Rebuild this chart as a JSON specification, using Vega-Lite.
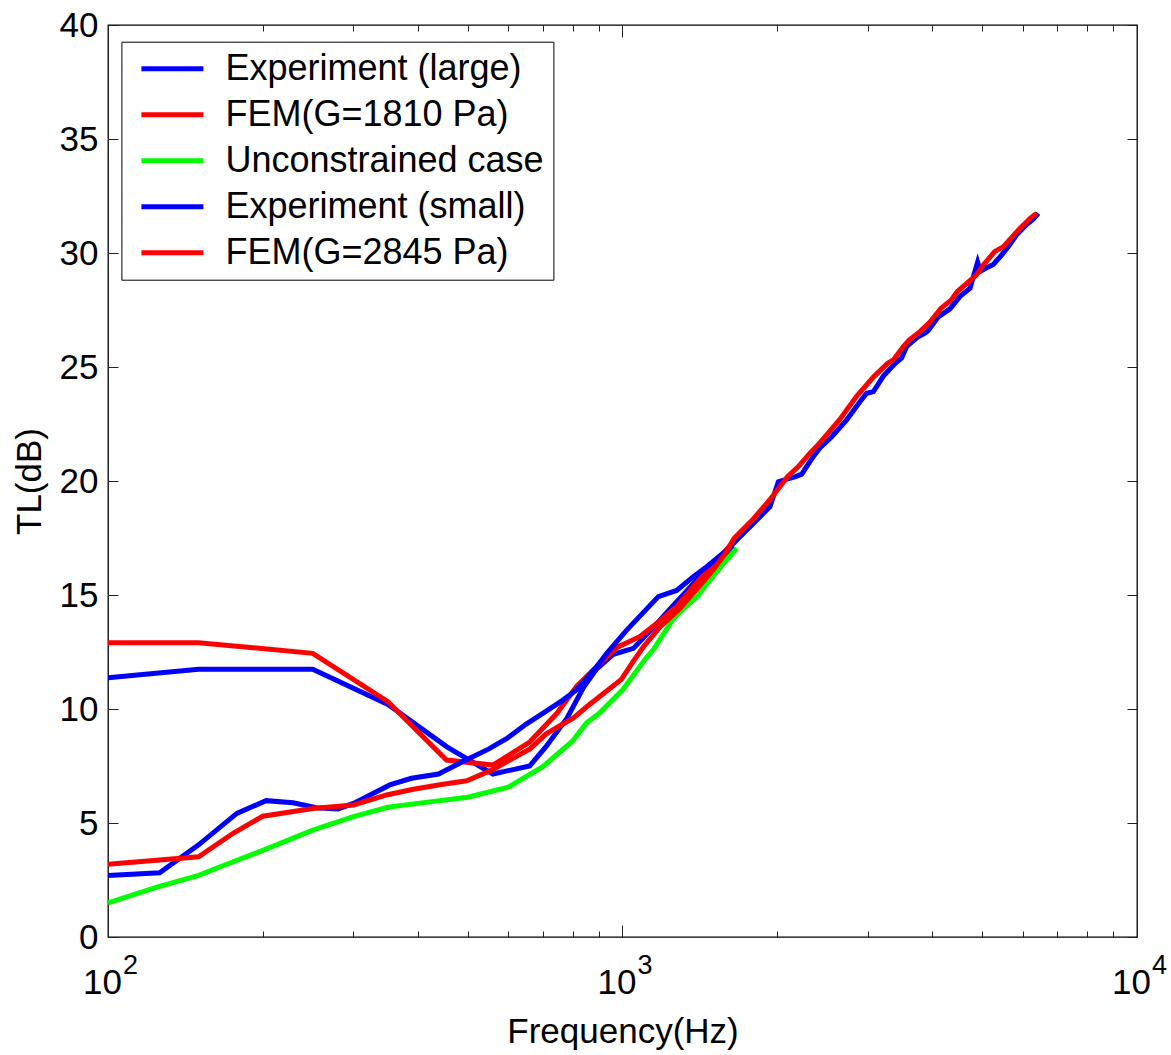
{
  "$schema": "https://vega.github.io/schema/vega-lite/v6.json",
  "width": 1029,
  "height": 912,
  "autosize": {"type": "none"},
  "padding": {"left": 108, "top": 25, "right": 34, "bottom": 118},
  "background": "white",
  "datasets": {
    "tl": [
      {"s": "Experiment (large)", "f": 100, "tl": 11.37},
      {"s": "Experiment (large)", "f": 150, "tl": 11.74},
      {"s": "Experiment (large)", "f": 250, "tl": 11.74},
      {"s": "Experiment (large)", "f": 350, "tl": 10.2},
      {"s": "Experiment (large)", "f": 455, "tl": 8.35},
      {"s": "Experiment (large)", "f": 500, "tl": 7.8},
      {"s": "Experiment (large)", "f": 560, "tl": 7.15},
      {"s": "Experiment (large)", "f": 660, "tl": 7.5},
      {"s": "Experiment (large)", "f": 710, "tl": 8.35},
      {"s": "Experiment (large)", "f": 780, "tl": 9.6},
      {"s": "Experiment (large)", "f": 840, "tl": 10.95},
      {"s": "Experiment (large)", "f": 890, "tl": 11.75},
      {"s": "Experiment (large)", "f": 960, "tl": 12.4},
      {"s": "Experiment (large)", "f": 1050, "tl": 12.66},
      {"s": "Experiment (large)", "f": 1150, "tl": 13.6},
      {"s": "Experiment (large)", "f": 1250, "tl": 14.5},
      {"s": "Experiment (large)", "f": 1400, "tl": 15.7},
      {"s": "Experiment (large)", "f": 1550, "tl": 16.6},
      {"s": "Experiment (large)", "f": 1650, "tl": 17.1},

      {"s": "FEM(G=1810 Pa)", "f": 100, "tl": 12.91},
      {"s": "FEM(G=1810 Pa)", "f": 150, "tl": 12.91},
      {"s": "FEM(G=1810 Pa)", "f": 250, "tl": 12.44},
      {"s": "FEM(G=1810 Pa)", "f": 350, "tl": 10.32},
      {"s": "FEM(G=1810 Pa)", "f": 455, "tl": 7.76},
      {"s": "FEM(G=1810 Pa)", "f": 560, "tl": 7.54},
      {"s": "FEM(G=1810 Pa)", "f": 660, "tl": 8.55},
      {"s": "FEM(G=1810 Pa)", "f": 745, "tl": 9.8},
      {"s": "FEM(G=1810 Pa)", "f": 815, "tl": 11.0},
      {"s": "FEM(G=1810 Pa)", "f": 890, "tl": 11.85},
      {"s": "FEM(G=1810 Pa)", "f": 975, "tl": 12.7},
      {"s": "FEM(G=1810 Pa)", "f": 1080, "tl": 13.17},
      {"s": "FEM(G=1810 Pa)", "f": 1180, "tl": 13.85},
      {"s": "FEM(G=1810 Pa)", "f": 1275, "tl": 14.5},
      {"s": "FEM(G=1810 Pa)", "f": 1400, "tl": 15.6},
      {"s": "FEM(G=1810 Pa)", "f": 1500, "tl": 16.3},
      {"s": "FEM(G=1810 Pa)", "f": 1650, "tl": 17.4},

      {"s": "Unconstrained case", "f": 100, "tl": 1.5},
      {"s": "Unconstrained case", "f": 125, "tl": 2.2},
      {"s": "Unconstrained case", "f": 150, "tl": 2.7},
      {"s": "Unconstrained case", "f": 175, "tl": 3.3},
      {"s": "Unconstrained case", "f": 200, "tl": 3.8},
      {"s": "Unconstrained case", "f": 250, "tl": 4.69},
      {"s": "Unconstrained case", "f": 300, "tl": 5.28},
      {"s": "Unconstrained case", "f": 350, "tl": 5.69},
      {"s": "Unconstrained case", "f": 400, "tl": 5.86},
      {"s": "Unconstrained case", "f": 500, "tl": 6.13},
      {"s": "Unconstrained case", "f": 600, "tl": 6.57},
      {"s": "Unconstrained case", "f": 700, "tl": 7.47},
      {"s": "Unconstrained case", "f": 800, "tl": 8.6},
      {"s": "Unconstrained case", "f": 850, "tl": 9.37},
      {"s": "Unconstrained case", "f": 900, "tl": 9.8},
      {"s": "Unconstrained case", "f": 1000, "tl": 10.83},
      {"s": "Unconstrained case", "f": 1100, "tl": 12.1},
      {"s": "Unconstrained case", "f": 1150, "tl": 12.63},
      {"s": "Unconstrained case", "f": 1250, "tl": 13.9},
      {"s": "Unconstrained case", "f": 1300, "tl": 14.3},
      {"s": "Unconstrained case", "f": 1400, "tl": 14.95},
      {"s": "Unconstrained case", "f": 1460, "tl": 15.5},
      {"s": "Unconstrained case", "f": 1560, "tl": 16.3},
      {"s": "Unconstrained case", "f": 1667, "tl": 17.05},

      {"s": "Experiment (small)", "f": 100, "tl": 2.7},
      {"s": "Experiment (small)", "f": 126, "tl": 2.82},
      {"s": "Experiment (small)", "f": 150, "tl": 4.04},
      {"s": "Experiment (small)", "f": 178, "tl": 5.42},
      {"s": "Experiment (small)", "f": 203, "tl": 5.98},
      {"s": "Experiment (small)", "f": 229, "tl": 5.89},
      {"s": "Experiment (small)", "f": 254, "tl": 5.67},
      {"s": "Experiment (small)", "f": 280, "tl": 5.62},
      {"s": "Experiment (small)", "f": 300, "tl": 5.86},
      {"s": "Experiment (small)", "f": 353, "tl": 6.67},
      {"s": "Experiment (small)", "f": 389, "tl": 6.96},
      {"s": "Experiment (small)", "f": 439, "tl": 7.15},
      {"s": "Experiment (small)", "f": 500, "tl": 7.8},
      {"s": "Experiment (small)", "f": 550, "tl": 8.25},
      {"s": "Experiment (small)", "f": 595, "tl": 8.7},
      {"s": "Experiment (small)", "f": 650, "tl": 9.34},
      {"s": "Experiment (small)", "f": 700, "tl": 9.81},
      {"s": "Experiment (small)", "f": 766, "tl": 10.39},
      {"s": "Experiment (small)", "f": 815, "tl": 10.85},
      {"s": "Experiment (small)", "f": 891, "tl": 11.86},
      {"s": "Experiment (small)", "f": 932, "tl": 12.44},
      {"s": "Experiment (small)", "f": 1019, "tl": 13.46},
      {"s": "Experiment (small)", "f": 1174, "tl": 14.93},
      {"s": "Experiment (small)", "f": 1274, "tl": 15.2},
      {"s": "Experiment (small)", "f": 1373, "tl": 15.8},
      {"s": "Experiment (small)", "f": 1458, "tl": 16.24},
      {"s": "Experiment (small)", "f": 1594, "tl": 16.97},
      {"s": "Experiment (small)", "f": 1692, "tl": 17.56},
      {"s": "Experiment (small)", "f": 1796, "tl": 18.14},
      {"s": "Experiment (small)", "f": 1935, "tl": 18.87},
      {"s": "Experiment (small)", "f": 2009, "tl": 19.97},
      {"s": "Experiment (small)", "f": 2170, "tl": 20.19},
      {"s": "Experiment (small)", "f": 2230, "tl": 20.3},
      {"s": "Experiment (small)", "f": 2348, "tl": 21.07},
      {"s": "Experiment (small)", "f": 2430, "tl": 21.5},
      {"s": "Experiment (small)", "f": 2551, "tl": 21.94},
      {"s": "Experiment (small)", "f": 2727, "tl": 22.68},
      {"s": "Experiment (small)", "f": 2894, "tl": 23.48},
      {"s": "Experiment (small)", "f": 2983, "tl": 23.85},
      {"s": "Experiment (small)", "f": 3074, "tl": 23.92},
      {"s": "Experiment (small)", "f": 3214, "tl": 24.6},
      {"s": "Experiment (small)", "f": 3386, "tl": 25.15},
      {"s": "Experiment (small)", "f": 3488, "tl": 25.4},
      {"s": "Experiment (small)", "f": 3566, "tl": 25.9},
      {"s": "Experiment (small)", "f": 3740, "tl": 26.3},
      {"s": "Experiment (small)", "f": 3871, "tl": 26.48},
      {"s": "Experiment (small)", "f": 3930, "tl": 26.6},
      {"s": "Experiment (small)", "f": 4109, "tl": 27.2},
      {"s": "Experiment (small)", "f": 4331, "tl": 27.55},
      {"s": "Experiment (small)", "f": 4529, "tl": 28.1},
      {"s": "Experiment (small)", "f": 4736, "tl": 28.45},
      {"s": "Experiment (small)", "f": 4900, "tl": 29.6},
      {"s": "Experiment (small)", "f": 4960, "tl": 29.2},
      {"s": "Experiment (small)", "f": 5100, "tl": 29.35},
      {"s": "Experiment (small)", "f": 5257, "tl": 29.5},
      {"s": "Experiment (small)", "f": 5450, "tl": 29.9},
      {"s": "Experiment (small)", "f": 5623, "tl": 30.28},
      {"s": "Experiment (small)", "f": 5835, "tl": 30.8},
      {"s": "Experiment (small)", "f": 6104, "tl": 31.25},
      {"s": "Experiment (small)", "f": 6300, "tl": 31.5},
      {"s": "Experiment (small)", "f": 6430, "tl": 31.74},

      {"s": "FEM(G=2845 Pa)", "f": 100, "tl": 3.19},
      {"s": "FEM(G=2845 Pa)", "f": 150, "tl": 3.52},
      {"s": "FEM(G=2845 Pa)", "f": 175, "tl": 4.55},
      {"s": "FEM(G=2845 Pa)", "f": 200, "tl": 5.3},
      {"s": "FEM(G=2845 Pa)", "f": 250, "tl": 5.64},
      {"s": "FEM(G=2845 Pa)", "f": 300, "tl": 5.79},
      {"s": "FEM(G=2845 Pa)", "f": 348, "tl": 6.23},
      {"s": "FEM(G=2845 Pa)", "f": 392, "tl": 6.48},
      {"s": "FEM(G=2845 Pa)", "f": 448, "tl": 6.7},
      {"s": "FEM(G=2845 Pa)", "f": 498, "tl": 6.85},
      {"s": "FEM(G=2845 Pa)", "f": 561, "tl": 7.35},
      {"s": "FEM(G=2845 Pa)", "f": 596, "tl": 7.69},
      {"s": "FEM(G=2845 Pa)", "f": 661, "tl": 8.25},
      {"s": "FEM(G=2845 Pa)", "f": 710, "tl": 8.9},
      {"s": "FEM(G=2845 Pa)", "f": 760, "tl": 9.3},
      {"s": "FEM(G=2845 Pa)", "f": 802, "tl": 9.6},
      {"s": "FEM(G=2845 Pa)", "f": 852, "tl": 10.1},
      {"s": "FEM(G=2845 Pa)", "f": 903, "tl": 10.55},
      {"s": "FEM(G=2845 Pa)", "f": 995, "tl": 11.3},
      {"s": "FEM(G=2845 Pa)", "f": 1050, "tl": 12.1},
      {"s": "FEM(G=2845 Pa)", "f": 1100, "tl": 12.75},
      {"s": "FEM(G=2845 Pa)", "f": 1183, "tl": 13.6},
      {"s": "FEM(G=2845 Pa)", "f": 1291, "tl": 14.4},
      {"s": "FEM(G=2845 Pa)", "f": 1400, "tl": 15.3},
      {"s": "FEM(G=2845 Pa)", "f": 1500, "tl": 16.1},
      {"s": "FEM(G=2845 Pa)", "f": 1585, "tl": 16.83},
      {"s": "FEM(G=2845 Pa)", "f": 1648, "tl": 17.49},
      {"s": "FEM(G=2845 Pa)", "f": 1800, "tl": 18.36},
      {"s": "FEM(G=2845 Pa)", "f": 1932, "tl": 19.17},
      {"s": "FEM(G=2845 Pa)", "f": 2093, "tl": 20.19},
      {"s": "FEM(G=2845 Pa)", "f": 2197, "tl": 20.63},
      {"s": "FEM(G=2845 Pa)", "f": 2312, "tl": 21.21},
      {"s": "FEM(G=2845 Pa)", "f": 2414, "tl": 21.65},
      {"s": "FEM(G=2845 Pa)", "f": 2640, "tl": 22.68},
      {"s": "FEM(G=2845 Pa)", "f": 2849, "tl": 23.7},
      {"s": "FEM(G=2845 Pa)", "f": 3080, "tl": 24.58},
      {"s": "FEM(G=2845 Pa)", "f": 3277, "tl": 25.16},
      {"s": "FEM(G=2845 Pa)", "f": 3360, "tl": 25.31},
      {"s": "FEM(G=2845 Pa)", "f": 3514, "tl": 25.89},
      {"s": "FEM(G=2845 Pa)", "f": 3607, "tl": 26.18},
      {"s": "FEM(G=2845 Pa)", "f": 3786, "tl": 26.55},
      {"s": "FEM(G=2845 Pa)", "f": 3967, "tl": 26.99},
      {"s": "FEM(G=2845 Pa)", "f": 4156, "tl": 27.57},
      {"s": "FEM(G=2845 Pa)", "f": 4355, "tl": 27.94},
      {"s": "FEM(G=2845 Pa)", "f": 4471, "tl": 28.3},
      {"s": "FEM(G=2845 Pa)", "f": 4876, "tl": 29.04},
      {"s": "FEM(G=2845 Pa)", "f": 5026, "tl": 29.47},
      {"s": "FEM(G=2845 Pa)", "f": 5288, "tl": 30.06},
      {"s": "FEM(G=2845 Pa)", "f": 5500, "tl": 30.28},
      {"s": "FEM(G=2845 Pa)", "f": 5920, "tl": 31.08},
      {"s": "FEM(G=2845 Pa)", "f": 6200, "tl": 31.52},
      {"s": "FEM(G=2845 Pa)", "f": 6385, "tl": 31.74}
    ]
  },
  "data": {"name": "tl"},
  "layer": [
    {
      "mark": {"type": "line", "strokeWidth": 5, "clip": true},
      "encoding": {
        "x": {
          "field": "f", "type": "quantitative",
          "scale": {"type": "log", "domain": [100, 10000], "nice": false},
          "axis": {
            "orient": "bottom", "values": [100, 1000, 10000],
            "labelExpr": "'10'", "labelFontSize": 35, "labelPadding": 40, "labelOffset": -6,
            "labelFlush": false, "labelOverlap": false,
            "tickSize": -12, "title": "Frequency(Hz)", "titleFontSize": 35, "titlePadding": 14
          }
        },
        "y": {
          "field": "tl", "type": "quantitative",
          "scale": {"domain": [0, 40], "nice": false, "zero": false},
          "axis": {
            "orient": "left", "values": [0, 5, 10, 15, 20, 25, 30, 35, 40],
            "labelFontSize": 35, "labelPadding": 20, "tickSize": -10,
            "title": "TL(dB)", "titleFontSize": 35, "titlePadding": 12
          }
        },
        "color": {
          "field": "s", "type": "nominal",
          "scale": {
            "domain": ["Experiment (large)", "FEM(G=1810 Pa)", "Unconstrained case", "Experiment (small)", "FEM(G=2845 Pa)"],
            "range": ["#0000ff", "#ff0000", "#00ff00", "#0000ff", "#ff0000"]
          },
          "legend": {
            "title": null, "orient": "none", "legendX": 13.4, "legendY": 16.7,
            "symbolType": "M-2,0H2", "symbolSize": 961, "symbolStrokeWidth": 5,
            "symbolOffset": 24, "labelOffset": 35, "labelFontSize": 36, "labelLimit": 0,
            "labelColor": "black", "labelBaseline": "middle",
            "padding": 9, "rowPadding": 10,
            "strokeColor": "black", "fillColor": "white"
          }
        }
      }
    },
    {
      "mark": {"type": "point", "opacity": 0},
      "encoding": {
        "x": {"field": "f", "type": "quantitative",
          "axis": {"orient": "top", "values": [100, 1000, 10000], "labels": false, "tickSize": -12, "title": null}},
        "y": {"field": "tl", "type": "quantitative",
          "axis": {"orient": "right", "values": [0, 5, 10, 15, 20, 25, 30, 35, 40], "labels": false, "tickSize": -10, "title": null}}
      }
    },
    {
      "mark": {"type": "point", "opacity": 0},
      "encoding": {
        "x": {"field": "f", "type": "quantitative",
          "axis": {"orient": "bottom", "values": [200, 300, 400, 500, 600, 700, 800, 900, 2000, 3000, 4000, 5000, 6000, 7000, 8000, 9000], "labels": false, "tickSize": -6, "title": null}},
        "y": {"field": "tl", "type": "quantitative", "axis": null}
      }
    },
    {
      "mark": {"type": "point", "opacity": 0},
      "encoding": {
        "x": {"field": "f", "type": "quantitative",
          "axis": {"orient": "top", "values": [200, 300, 400, 500, 600, 700, 800, 900, 2000, 3000, 4000, 5000, 6000, 7000, 8000, 9000], "labels": false, "tickSize": -6, "title": null}},
        "y": {"field": "tl", "type": "quantitative", "axis": null}
      }
    },
    {
      "mark": {"type": "point", "opacity": 0},
      "encoding": {
        "x": {"field": "f", "type": "quantitative",
          "axis": {"orient": "bottom", "values": [100, 1000, 10000], "ticks": false,
            "labelExpr": "datum.value == 100 ? '2' : datum.value == 1000 ? '3' : '4'",
            "labelFontSize": 27, "labelPadding": 15, "labelOffset": 22,
            "labelFlush": false, "labelOverlap": false, "title": null}},
        "y": {"field": "tl", "type": "quantitative", "axis": null}
      }
    }
  ],
  "resolve": {"axis": {"x": "independent", "y": "independent"}},
  "config": {
    "font": "Liberation Sans",
    "view": {"stroke": "black", "strokeWidth": 1.3},
    "axis": {
      "domain": false, "grid": false, "tickColor": "#222", "tickWidth": 1,
      "labelFont": "Liberation Sans", "titleFont": "Liberation Sans",
      "labelColor": "black", "titleColor": "black", "titleFontWeight": "normal"
    },
    "legend": {"labelFont": "Liberation Sans"}
  }
}
